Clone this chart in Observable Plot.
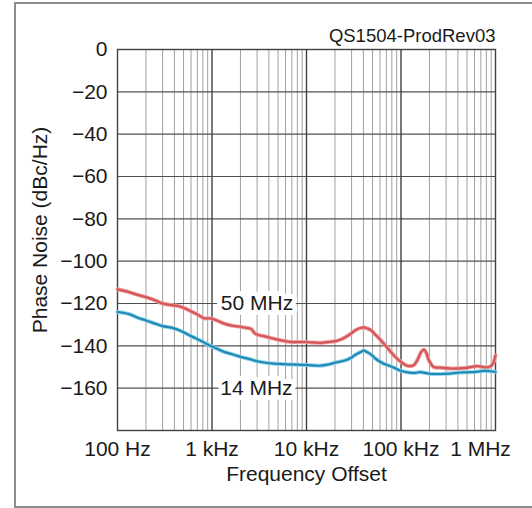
<!DOCTYPE html>
<html><head><meta charset="utf-8">
<script src="https://cdn.jsdelivr.net/npm/d3@7"></script>
<script src="https://cdn.jsdelivr.net/npm/@observablehq/plot@0.6"></script>
<style>
html,body{margin:0;padding:0;background:#fff;}
#wrap{position:relative;width:532px;height:508px;overflow:hidden;}
#border{position:absolute;left:14px;top:2px;width:540px;height:506px;border:2px solid #8c8c8c;box-sizing:border-box;}
#chart{position:absolute;left:0;top:0;}
</style></head><body>
<div id="wrap"><div id="border"></div><div id="chart"></div></div>
<script>
// ---- data ----
const freq50 = [100,130,160,200,250,300,380,450,530,620,720,830,960,1100,1350,1650,2000,2300,2600,2800,3000,3600,4500,5500,6800,8000,10000,13600,17000,20400,23000,26000,30000,33000,37000,40500,44000,48000,53000,59000,66000,75000,86000,100000,117000,136000,150000,163000,175000,186000,197000,222000,264000,334000,470000,645000,820000,900000,950000,1000000];
const pn50 = [-113.3,-114.5,-115.8,-117,-118.5,-120,-120.8,-121.3,-122.5,-124,-125.5,-127,-127,-127.8,-129.5,-130.5,-131,-131.5,-132,-133.8,-134.7,-135.5,-136.6,-137.5,-138.2,-138.2,-138.2,-138.6,-138.2,-137.8,-137,-135.8,-134,-132.6,-131.6,-131.3,-131.8,-132.6,-134.5,-136.6,-139,-142,-145,-147.6,-149.4,-149.2,-146.5,-143,-141.8,-143.5,-146.8,-150,-150.3,-150.7,-150.5,-149.6,-150.2,-149.5,-148,-144.5];
const freq14 = [100,133,160,200,250,300,380,470,575,680,790,960,1150,1350,1650,2000,2500,3000,3700,4500,5500,6800,10000,13600,17000,20400,26000,30000,33000,37000,40500,44000,48000,53000,59000,66000,75000,86000,96000,117000,140000,160000,200000,260000,334000,420000,500000,620000,750000,880000,1000000];
const pn14 = [-124,-125,-126.5,-128,-129.5,-130.7,-131.5,-133,-135,-136.5,-138,-140,-141.5,-142.9,-144,-145.2,-146.3,-147.3,-148,-148.4,-148.6,-148.8,-149,-149.4,-148.8,-147.9,-146.8,-145.5,-144.2,-143,-142.3,-143,-144,-145.8,-147.3,-148.5,-149.4,-150.5,-151.5,-152.5,-152.8,-152.4,-153.2,-153.3,-153.1,-152.6,-152.5,-152.3,-151.8,-152,-152.3];
const seriesNames = ["50 MHz", "14 MHz"];
const labelFreq = [2990, 2950];
const labelPn = [-120, -160];
const xTickValues = [100, 1000, 10000, 100000, 1000000];
const xTickLabels = ["100 Hz", "1 kHz", "10 kHz", "100 kHz", "1 MHz"];
const yTickValues = [0, -20, -40, -60, -80, -100, -120, -140, -160];
const yGrid = [-20, -40, -60, -80, -100, -120, -140, -160];
const titleText = "QS1504-ProdRev03";
const xLabel = "Frequency Offset";
const yLabel = "Phase Noise (dBc/Hz)";

// ---- derived tables ----
const d50 = freq50.map((f, i) => ({f, pn: pn50[i]}));
const d14 = freq14.map((f, i) => ({f, pn: pn14[i]}));
const labels = seriesNames.map((name, i) => ({name, f: labelFreq[i], pn: labelPn[i]}));
const decades = [1000, 10000, 100000];
const minor = [];
for (const base of [100, 1000, 10000, 100000]) for (let m = 2; m <= 9; m++) minor.push(base * m);
const fmtX = d => xTickLabels[xTickValues.indexOf(d)];

const chart = Plot.plot({
  width: 532, height: 508,
  marginLeft: 117, marginRight: 37, marginTop: 49, marginBottom: 78,
  x: {type: "log", domain: [100, 1e6]},
  y: {domain: [-180, 0]},
  style: {fontFamily: "'Liberation Sans', Arial, sans-serif", fontSize: "21px", color: "#1a1a1a", background: "transparent", overflow: "visible"},
  marks: [
    Plot.ruleX(minor, {stroke: "#a0a0a0", strokeWidth: 1}),
    Plot.ruleY(yGrid, {stroke: "#505050", strokeWidth: 1.2}),
    Plot.ruleX(decades, {stroke: "#404040", strokeWidth: 1.4}),
    Plot.frame({stroke: "#404040", strokeWidth: 1.4}),
    Plot.line(d50, {x: "f", y: "pn", stroke: "#f0a0a0", strokeWidth: 4, curve: "catmull-rom"}),
    Plot.line(d50, {x: "f", y: "pn", stroke: "#d4585a", strokeWidth: 2.2, curve: "catmull-rom"}),
    Plot.line(d14, {x: "f", y: "pn", stroke: "#8fd8ee", strokeWidth: 4, curve: "catmull-rom"}),
    Plot.line(d14, {x: "f", y: "pn", stroke: "#2388b4", strokeWidth: 2.2, curve: "catmull-rom"}),
    Plot.text(labels, {x: "f", y: "pn", text: "name", fill: "#1a1a1a", stroke: "white", strokeWidth: 10, fontSize: 21}),
    Plot.axisY({ticks: yTickValues, tickSize: 0, tickPadding: 10, label: null, fontSize: 21}),
    Plot.axisX({ticks: xTickValues.slice(0, 4), tickFormat: fmtX, tickSize: 0, tickPadding: 11, label: null, fontSize: 21}),
    Plot.axisX({ticks: xTickValues.slice(4), tickFormat: fmtX, tickSize: 0, tickPadding: 11, label: null, fontSize: 21, dx: -15}),
    Plot.text([xLabel], {text: d => d, frameAnchor: "bottom", textAnchor: "middle", dy: 44, lineAnchor: "middle", fontSize: 21}),
    Plot.text([yLabel], {text: d => d, frameAnchor: "left", textAnchor: "middle", rotate: -90, dx: -77, dy: -10, lineAnchor: "middle", fontSize: 21}),
    Plot.text([titleText], {text: d => d, frameAnchor: "top-right", textAnchor: "end", dy: -13, lineAnchor: "middle", fontSize: 18.5})
  ]
});
document.getElementById("chart").appendChild(chart);
</script>
</body></html>
